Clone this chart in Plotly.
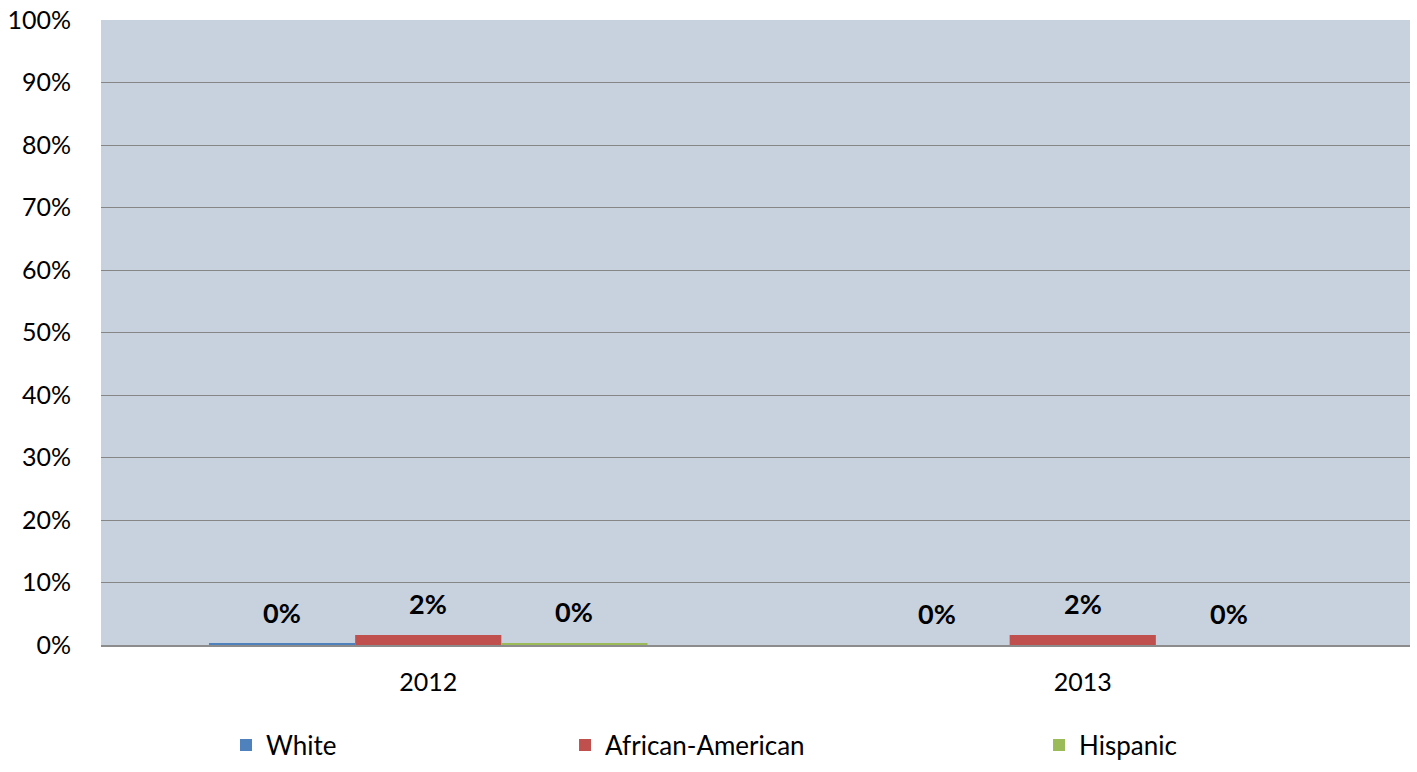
import plotly.graph_objects as go

# Share of students by group and school year (percent)
years = ["2012", "2013"]
groups = ["White", "African-American", "Hispanic"]
white = [0.2, 0.0]
african_american = [1.6, 1.6]
hispanic = [0.3, 0.0]
colors = ["#4F81BD", "#C0504D", "#9BBB59"]
y_ticks = [0, 10, 20, 30, 40, 50, 60, 70, 80, 90, 100]

series = [white, african_american, hispanic]
legend_names = ["legend", "legend2", "legend3"]
legend_x = [0.0955, 0.3545, 0.7166]

FONT = "Lato, 'Open Sans', sans-serif"
BARGAP = 0.33

fig = go.Figure()
for i, (name, vals, col) in enumerate(zip(groups, series, colors)):
    fig.add_trace(go.Bar(
        x=years, y=vals, name=name,
        marker=dict(color=col, line=dict(width=0)),
        legend=legend_names[i], showlegend=True,
    ))

# value labels above each bar
bar_w = (1 - BARGAP) / len(groups)
annotations = []
for gi, vals in enumerate(series):
    offset = (gi - (len(groups) - 1) / 2) * bar_w
    for ci, v in enumerate(vals):
        annotations.append(dict(
            x=ci + offset, y=v, xref="x", yref="y",
            text=f"<b>{round(v)}%</b>", showarrow=False,
            yanchor="bottom", yshift=13,
            font=dict(family=FONT, size=27, color="#000000"),
        ))

layout_legends = {}
for ln, lx in zip(legend_names, legend_x):
    layout_legends[ln] = dict(
        x=lx, y=-0.16, xanchor="left", yanchor="middle",
        orientation="h", bgcolor="rgba(0,0,0,0)",
        font=dict(family=FONT, size=26, color="#000000"),
        itemclick=False, itemdoubleclick=False,
    )

fig.update_layout(
    width=1417, height=772,
    margin=dict(l=101, r=7, t=20, b=127, autoexpand=False),
    paper_bgcolor="#FFFFFF",
    plot_bgcolor="#C8D2DE",
    barmode="group", bargap=BARGAP, bargroupgap=0,
    showlegend=True,
    font=dict(family=FONT, size=25, color="#000000"),
    annotations=annotations,
    **layout_legends,
)
fig.update_xaxes(
    type="category", showgrid=False,
    showline=True, linecolor="#8C8C8C", linewidth=2,
    ticks="outside", ticklen=14, tickcolor="rgba(0,0,0,0)",
    tickfont=dict(family=FONT, size=25), automargin=False,
)
fig.update_yaxes(
    range=[0, 100], tickvals=y_ticks,
    ticktext=[f"{t}%" for t in y_ticks],
    showgrid=True, gridcolor="#868686", gridwidth=1,
    zeroline=False, showline=False,
    ticks="outside", ticklen=24, tickcolor="rgba(0,0,0,0)",
    tickfont=dict(family=FONT, size=25), automargin=False,
)

fig.write_html("out.html")
